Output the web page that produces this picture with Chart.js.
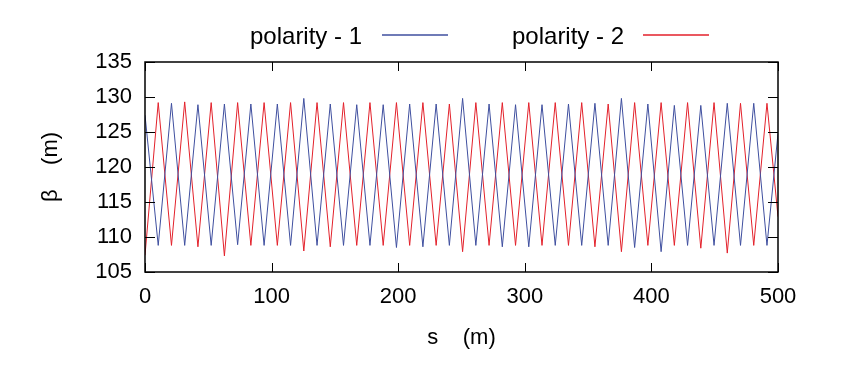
<!DOCTYPE html>
<html>
<head>
<meta charset="utf-8">
<script src="https://cdn.jsdelivr.net/npm/chart.js@4.4.1/dist/chart.umd.min.js"></script>
<style>
  html, body { margin: 0; padding: 0; background: #fff; }
  #wrap { width: 846px; height: 372px; }
</style>
</head>
<body>
<div id="wrap"><canvas id="beta"></canvas></div>
<script>
// ── Data ───────────────────────────────────────────────
const S_POS = [
  0, 10.45, 20.91, 31.36, 41.81, 52.27, 62.72, 73.17, 83.62, 94.08,
  104.53, 114.98, 125.44, 135.89, 146.34, 156.80, 167.25, 177.70, 188.15, 198.61,
  209.06, 219.51, 229.97, 240.42, 250.87, 261.33, 271.78, 282.23, 292.68, 303.14,
  313.59, 324.04, 334.50, 344.95, 355.40, 365.86, 376.31, 386.76, 397.21, 407.67,
  418.12, 428.57, 439.03, 449.48, 459.93, 470.39, 480.84, 491.29, 500
];

const BETA_POL1 = [
  127.4, 108.8, 129.1, 108.8, 128.9, 108.8, 129.0, 108.9, 129.0, 108.8,
  129.0, 108.8, 129.8, 108.8, 129.0, 108.8, 128.9, 108.8, 128.9, 108.5,
  129.0, 108.6, 129.0, 108.8, 129.8, 108.8, 129.0, 108.6, 128.9, 108.6,
  128.9, 108.8, 129.0, 108.8, 129.1, 108.8, 129.8, 108.5, 129.0, 107.9,
  128.8, 108.8, 128.8, 108.8, 129.1, 108.8, 129.1, 108.8, 124.8
];

const BETA_POL2 = [
  107.4, 129.2, 108.8, 129.3, 108.6, 129.2, 107.3, 129.2, 108.8, 129.2,
  108.8, 129.2, 108.0, 129.2, 108.6, 129.2, 108.8, 129.2, 108.8, 129.2,
  108.8, 129.2, 108.8, 129.0, 107.9, 129.2, 108.8, 129.2, 108.8, 129.2,
  108.8, 129.2, 108.8, 129.2, 108.6, 129.0, 107.9, 129.2, 108.8, 129.2,
  108.8, 129.2, 108.4, 129.2, 107.7, 129.1, 108.8, 129.1, 112.9
];

const SERIES_LABELS = ['polarity - 1', 'polarity - 2'];
const SERIES_COLORS = ['#3f4f9f', '#e3212b'];

const X_MIN = 0, X_MAX = 500, X_STEP = 100;
const Y_MIN = 105, Y_MAX = 135, Y_STEP = 5;

const FONT = '"Liberation Sans", Arial, Helvetica, sans-serif';

// ── Gnuplot-style frame: mirrored border + inward ticks ──
const framePlugin = {
  id: 'frame',
  afterDatasetsDraw(chart) {
    const { ctx, chartArea: a, scales: { x, y } } = chart;
    ctx.save();
    ctx.strokeStyle = '#000';
    ctx.lineWidth = 1;
    ctx.beginPath();
    for (let v = X_MIN; v <= X_MAX; v += X_STEP) {
      const px = Math.round(x.getPixelForValue(v)) + 0.5;
      ctx.moveTo(px, a.bottom); ctx.lineTo(px, a.bottom - 9);
      ctx.moveTo(px, a.top);    ctx.lineTo(px, a.top + 9);
    }
    for (let v = Y_MIN; v <= Y_MAX; v += Y_STEP) {
      const py = Math.round(y.getPixelForValue(v)) + 0.5;
      ctx.moveTo(a.left, py);  ctx.lineTo(a.left + 10, py);
      ctx.moveTo(a.right, py); ctx.lineTo(a.right - 10, py);
    }
    ctx.stroke();
    ctx.lineWidth = 1.5;
    ctx.strokeRect(a.left, a.top, a.right - a.left, a.bottom - a.top);
    ctx.restore();
  }
};

// ── Legend: text first, then a line sample ─────────────
const KEY_TEXT_X = [250, 512];
const KEY_LINE_X = [[382, 448], [643, 709]];

const keyPlugin = {
  id: 'key',
  afterDraw(chart) {
    const { ctx } = chart;
    ctx.save();
    ctx.font = '24px ' + FONT;
    ctx.textBaseline = 'middle';
    ctx.fillStyle = '#000';
    SERIES_LABELS.forEach((label, i) => {
      ctx.fillText(label, KEY_TEXT_X[i], 37);
      ctx.strokeStyle = SERIES_COLORS[i];
      ctx.lineWidth = 1.3;
      ctx.beginPath();
      ctx.moveTo(KEY_LINE_X[i][0], 35);
      ctx.lineTo(KEY_LINE_X[i][1], 35);
      ctx.stroke();
    });
    ctx.restore();
  }
};

const toPoints = ys => S_POS.map((s, i) => ({ x: s, y: ys[i] }));
const axisFont = { family: FONT, size: 22 };

new Chart(document.getElementById('beta'), {
  type: 'line',
  data: {
    datasets: [BETA_POL1, BETA_POL2].map((ys, i) => ({
      label: SERIES_LABELS[i],
      data: toPoints(ys),
      borderColor: SERIES_COLORS[i],
      borderWidth: 1,
      pointRadius: 0,
      tension: 0,
      fill: false
    }))
  },
  options: {
    responsive: true,
    maintainAspectRatio: false,
    animation: false,
    events: [],
    layout: { padding: { top: 62, right: 68, left: 0, bottom: 0 } },
    plugins: { legend: { display: false }, tooltip: { enabled: false } },
    scales: {
      x: {
        type: 'linear',
        min: X_MIN, max: X_MAX,
        grid: { display: false, drawTicks: false },
        border: { display: false },
        ticks: { stepSize: X_STEP, padding: 12, color: '#000', font: axisFont },
        title: { display: true, text: 's    (m)', color: '#000', font: axisFont, padding: { top: 0, bottom: 21 } },
        afterFit: s => { s.height = 100; }
      },
      y: {
        min: Y_MIN, max: Y_MAX,
        grid: { display: false, drawTicks: false },
        border: { display: false },
        ticks: { stepSize: Y_STEP, padding: 13, color: '#000', font: axisFont },
        title: { display: true, text: 'β    (m)', color: '#000', font: axisFont, padding: { top: 38, bottom: 0 } },
        afterFit: s => { s.width = 145; }
      }
    }
  },
  plugins: [framePlugin, keyPlugin]
});
</script>
</body>
</html>
